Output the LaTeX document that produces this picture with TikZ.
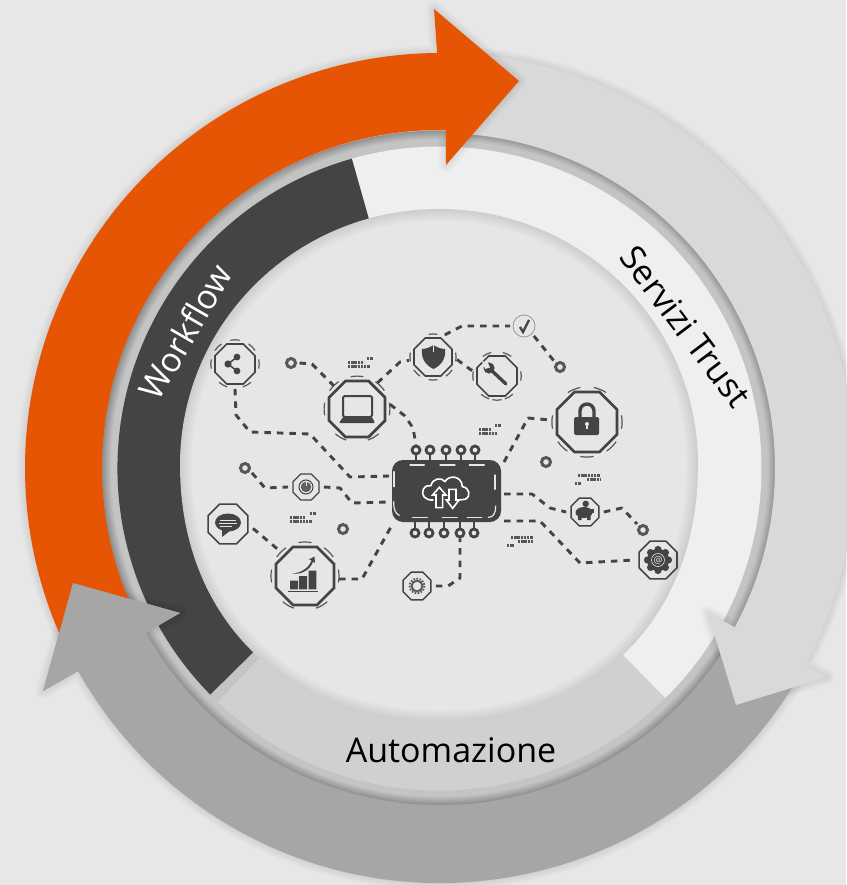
\documentclass[tikz,border=0pt]{standalone}
\usepackage{fontspec}
\setmainfont{Open Sans}
\usetikzlibrary{calc,shapes.geometric}
\definecolor{bgc}{HTML}{E7E7E7}
\definecolor{discc}{HTML}{E6E6E6}
\definecolor{groovec}{HTML}{C4C4C4}
\definecolor{whitering}{HTML}{EFEFEF}
\definecolor{darkring}{HTML}{444444}
\definecolor{autoc}{HTML}{D0D0D0}
\definecolor{lightarrow}{HTML}{D9D9D9}
\definecolor{greyarrow}{HTML}{A6A6A6}
\definecolor{orangearrow}{HTML}{E65504}
\definecolor{ink}{HTML}{444444}
\tikzset{
  hubnode/.style={draw=ink,regular polygon,regular polygon sides=8,inner sep=0pt,outer sep=5pt},
  hubtick/.style={draw=ink!90,line width=1.2pt},
  conn/.style={draw=ink,line width=2.9pt,dash pattern=on 6.5pt off 6pt,line join=round},
  dotnode/.style={circle,draw=ink!90,line width=3pt,minimum size=9pt,inner sep=0pt,outer sep=4pt},
  pinnode/.style={circle,draw=ink,line width=2.8pt,minimum size=8pt,inner sep=0pt,outer sep=1.4pt},
  pinstem/.style={draw=ink,line width=2.6pt},
  chipnode/.style={fill=ink,rounded corners=11pt,minimum width=109pt,minimum height=62pt,inner sep=0pt,outer sep=3pt},
  chipdash/.style={draw=discc,line width=1.2pt,line cap=round},
  bit/.style={draw=ink!90,line width=3pt,dash pattern=on 2.4pt off .8pt},
  bigtext/.style={font=\fontsize{34}{34}\selectfont,anchor=base,inner sep=0pt},
}
\newcommand\hubat[6]{% name x y R lw ticks
  \node[hubnode,minimum size=#4*2pt,line width=#5pt] (#1) at (#2,#3) {};
  \pgfmathsetmacro\tickR{#4+2.6}
  \foreach \a in {#6}{
    \pgfmathsetmacro\tA{-\a-11}
    \draw[hubtick] (#2,#3) ++(\tA:\tickR) arc[start angle=\tA,delta angle=22,radius=\tickR];
  }
}
\newcommand\softedge[1]{%
  \foreach \w in {3,6,9,12,15}{\draw[black,opacity=.014,line width=\w pt,line join=round] #1;}%
}
\begin{document}
\begin{tikzpicture}[x=1pt,y=-1pt]
\useasboundingbox (0,0) rectangle (846,885);
\fill[bgc] (0,0) rectangle (846,885);
\coordinate (cr) at (439.5,468.5);
\coordinate (ca) at (440,468);
% disc outline: a circle whose lower half bulges slightly
\def\discpath{(439,209) .. controls (582,209) and (698,323) .. (698,465) .. controls (698,619) and (594,722) .. (440,722) .. controls (286,722) and (180,619) .. (180,465) .. controls (180,323) and (296,209) .. (439,209) -- cycle}
% groove
\fill[groovec] (cr) circle[radius=338];
\begin{scope}
  \clip (cr) circle[radius=338];
  \foreach \w in {3,6,9,12,15,18}{\draw[black,opacity=.03,line width=\w pt] (ca) circle[radius=338];}
\end{scope}
% ring segments
\fill[whitering] (cr) -- ($(cr)+(45.5:322)$) arc[start angle=45.5,end angle=-105.8,radius=322] -- cycle;
\fill[darkring] (cr) -- ($(cr)+(-105.8:322)$) arc[start angle=-105.8,end angle=-224.6,radius=322] -- cycle;
\fill[autoc] (cr) -- ($(cr)+(-226.5:322)$) arc[start angle=-226.5,end angle=-314.5,radius=322] -- cycle;
% inner disc
\fill[discc] \discpath;
\begin{scope}
  \clip \discpath;
  \foreach \w in {3,6,9,12,15,18,21,24}{\draw[black,opacity=.011,line width=\w pt] \discpath;}
\end{scope}
% arrows
\def\lightpath{($(ca)+(-85:415)$) arc[start angle=-85,end angle=28.4,radius=415] -- (827,677) -- (736,705) -- (708,613) -- ($(ca)+(28.4:335)$) arc[start angle=28.4,end angle=-85,radius=335] -- cycle}
\def\greypath{($(ca)+(30:415)$) arc[start angle=30,end angle=150.7,radius=415] -- (43,691) -- (73,583) -- (180,613) -- ($(ca)+(150.7:337)$) arc[start angle=150.7,end angle=30,radius=337] -- cycle}
\def\orangepath{($(ca)+(-205:415)$) arc[start angle=-205,end angle=-90.4,radius=415] -- (434,9) -- (519,81) -- (446,165) -- ($(ca)+(-89:338)$) arc[start angle=-89,end angle=-205,radius=338] -- cycle}
\softedge{\lightpath}
\fill[lightarrow] \lightpath;
\softedge{\greypath}
\fill[greyarrow] \greypath;
\fill[lightarrow] (827,677) -- (736,705) -- (708,613) -- cycle;
\softedge{\orangepath}
\fill[orangearrow] \orangepath;
\fill[greyarrow] (43,691) -- (73,583) -- (180,613) -- cycle;
% labels
\node[bigtext,text=white,rotate=60] (tworkflow) at (196,338) {Workflow};
\node[bigtext,text=black,rotate=-53] (tservizi) at (676,334) {Servizi Trust};
\node[bigtext,text=black] (tauto) at (451,762) {Automazione};
% chip
\node[chipnode] (chip) at (446.5,491) {};
\foreach \n/\x in {1/416,2/430,3/446,4/461,5/475}{
  \node[pinnode] (pt\n) at (\x,450) {};
  \draw[pinstem] (pt\n.south) -- (\x,462);
}
\foreach \n/\x in {1/415,2/429,3/444,4/460,5/474}{
  \node[pinnode] (pb\n) at (\x,533) {};
  \draw[pinstem] (pb\n.north) -- (\x,520);
}
\begin{scope}[shift={(380,430)},x=.3333pt,y=-.3333pt]
  \draw[chipdash] (90,105) -- (133,105) (180,105) -- (225,105) (268,105) -- (313,105);
  \draw[chipdash] (345,135) -- (345,178);
  \draw[chipdash] (97,262) -- (142,262) (187,262) -- (232,262) (262,262) -- (305,262);
  \draw[chipdash] (325,262) .. controls (340,262) and (347,250) .. (347,228);
  \draw[chipdash] (42,125) -- (42,170);
  \draw[chipdash] (41,215) .. controls (41,240) and (46,250) .. (58,256);
  % cloud icon
  \draw[draw=white,line width=1.6pt,line join=round]
    (160,210) .. controls (135,212) and (122,195) .. (130,178)
    .. controls (135,168) and (145,165) .. (153,167)
    .. controls (157,145) and (185,140) .. (195,155)
    .. controls (205,135) and (245,135) .. (247,170)
    .. controls (268,172) and (275,200) .. (255,208) -- (235,210);
  \draw[draw=white,fill=ink,line width=1.6pt,line join=miter]
    (178,172) -- (198,195) -- (188,195) -- (188,233) -- (168,233) -- (168,195) -- (158,195) -- cycle;
  \draw[draw=white,fill=ink,line width=1.6pt,line join=miter]
    (207,178) -- (228,178) -- (228,210) -- (237,210) -- (218,235) -- (199,210) -- (207,210) -- cycle;
\end{scope}
% hubs
\hubat{share}{235}{364}{21.6}{1.6}{90,45,135,0,180,240,300}
\hubat{laptop}{357}{409}{30.3}{2.7}{90,45,135,0,180,240,300}
\hubat{shield}{433}{357}{20.5}{1.7}{90,0,180,225,315,270}
\hubat{wrench}{497}{376}{21.6}{1.7}{0,180,270,115,65,240,300}
\hubat{lock}{587}{422}{32.5}{2.7}{112,68,0,180,225,315,270}
\hubat{power}{306}{487}{14}{1.2}{}
\hubat{piggy}{585}{512}{15}{1.4}{}
\hubat{atsign}{658}{560}{20.5}{1.6}{}
\hubat{chat}{228}{524}{21.6}{1.5}{}
\hubat{chart}{305}{576}{31.4}{2.7}{90,45,135,0,180,240,300}
\hubat{gear}{417}{586}{15}{1.3}{}
\node[circle,draw=ink!55,line width=.8pt,minimum size=22pt,inner sep=0pt,outer sep=3pt] (check) at (524,326) {};
% share icon
\draw[draw=ink,line width=1.5pt] (237,357) -- (228,364) -- (237,371);
\fill[ink] (237,357) circle[radius=3.4] (228,364) circle[radius=3.6] (237,371) circle[radius=3.4];
% laptop icon
\draw[draw=ink,line width=2pt,rounded corners=1.5pt] (343,396) rectangle (372,417);
\fill[ink,rounded corners=1pt] (343,417) -- (372,417) -- (375,423) -- (339,423) -- cycle;
% shield icon
\fill[ink] (433.5,345) .. controls (429,348) and (425,349) .. (422,349) .. controls (421,358) and (425,365) .. (433.5,369) .. controls (442,365) and (446,358) .. (445,349) .. controls (442,349) and (438,348) .. (433.5,345) -- cycle;
\draw[draw=discc,line width=.5pt] (433.5,345) -- (433.5,352);
% check icon
\draw[draw=ink,line width=2.4pt] (520,327) -- (523,332) -- (529,320);
% wrench icon
\draw[draw=ink,line width=3.4pt,line cap=round] (490,369) -- (506,384);
\fill[ink] (489,368) circle[radius=5.6];
\fill[discc] (488,363) -- (490,367.5) -- (485,369) -- (482,361) -- cycle;
% lock icon
\draw[draw=ink,line width=3.4pt] (580,418) -- (580,411) arc[start angle=180,end angle=360,radius=7] -- (594,418);
\fill[ink,rounded corners=1.5pt] (574,417) rectangle (599,435);
\fill[discc] (587,424) circle[radius=2];
\draw[draw=discc,line width=1.4pt] (587,424) -- (587,429);
% power icon
\draw[draw=ink,line width=1pt] (306,487) circle[radius=7];
\fill[ink!85] (306,487) circle[radius=5.2];
\draw[draw=discc,line width=.9pt] (306,481) -- (306,486);
% piggy icon
\fill[ink] (584,512.5) ellipse[x radius=8.5,y radius=5.5];
\fill[ink] (590,509) rectangle (593.5,513);
\fill[ink] (578,516) rectangle (581.5,520) (587,516) rectangle (590.5,520);
\fill[ink] (585.7,503.8) circle[radius=3.2];
% at icon
\fill[ink] (658,560) circle[radius=11];
\foreach \a in {0,45,...,315}{\fill[ink] (658,560) ++(\a:10.5) circle[radius=3.6];}
\node[circle,draw=discc,line width=.6pt,minimum size=13pt,inner sep=0pt,text=discc,font=\fontsize{10}{10}\selectfont] (attext) at (658,560) {@};
% chat icon
\fill[ink] (228,522.5) ellipse[x radius=13,y radius=9];
\fill[ink] (222,529) -- (222,537) -- (231,530) -- cycle;
\draw[draw=discc,line width=.5pt] (220,520) -- (236,520) (219,522.8) -- (237,522.8) (220,526) -- (232,526);
% chart icon
\fill[ink] (290,580.7) rectangle (298,589.3) (299,576) rectangle (307,589.3) (308.7,570.7) rectangle (316.3,589.3);
\draw[draw=ink,line width=.9pt] (288,591.7) -- (318,591.7);
\fill[ink] (291.7,573.6) .. controls (303,573) and (310,566) .. (311.5,560) -- (309,559.5) -- (314.5,556.5) -- (315,563) -- (313,561.5) .. controls (311,568) and (304,575) .. (291.7,573.6) -- cycle;
% gear icon
\draw[draw=ink!90,line width=1.8pt,dash pattern=on 1.6pt off 1.5pt] (417,586) circle[radius=7.4];
\draw[draw=ink!90,line width=1.9pt] (417,586) circle[radius=5.4];
% dots
\node[dotnode] (d1) at (291,363) {};
\node[dotnode] (d2) at (245,468) {};
\node[dotnode] (d3) at (560,367) {};
\node[dotnode] (d4) at (546,462) {};
\node[dotnode] (d5) at (643,530) {};
\node[dotnode] (d6) at (343,529) {};
% connectors
\draw[conn] (share.south) -- (236,415) -- (250,432) -- (310,434) -- (350,477) -- ([yshift=15pt]chip.west);
\draw[conn] (d1.east) -- (312,364) -- (laptop.135);
\draw[conn] (laptop.52) -- (400,362) -- (shield.188);
\draw[conn] (laptop.8) -- (405,416) -- (413,428) -- (pt1.north);
\draw[conn] (d2.-35) -- (265,488) -- (power.west);
\draw[conn] (power.east) -- (340,488) -- (352,503) -- ([yshift=-11pt]chip.west);
\draw[conn] (chat.-10) -- (chart.135);
\draw[conn] (chart.-5) -- (362,579) -- ([xshift=3pt]chip.south west);
\draw[conn] (gear.east) -- (448,586) -- (460,578) -- (pb4.south);
\draw[conn] ([yshift=-5pt]chip.north east) -- (528,418) -- (lock.177);
\draw[conn] (shield.62) -- (462,326) -- (check.west);
\draw[conn] (shield.-6) -- (wrench.168);
\draw[conn] (check.-45) -- (d3.135);
\draw[conn] ([yshift=-3pt]chip.east) -- (532,494) -- (550,508) -- (piggy.west);
\draw[conn] (piggy.east) -- (622,508) -- (d5.135);
\draw[conn] ([yshift=-30pt]chip.east) -- (540,521) -- (580,563) -- (atsign.west);
% binary marks
\draw[bit] (348,362) -- (364,362) (348,366) -- (370,366) (367,358.5) -- (373,358.5);
\draw[bit] (479,429.5) -- (491,429.5) (479,433.5) -- (497,433.5) (495,425) -- (501,425);
\draw[bit] (578,475) -- (600,475) (587,479.5) -- (600,479.5) (575,483.5) -- (581,483.5);
\draw[bit] (290,517.5) -- (305,517.5) (290,521.5) -- (312,521.5) (310,513.5) -- (316,513.5);
\draw[bit] (511,537.5) -- (533,537.5) (518,541.5) -- (533,541.5) (507,545.5) -- (514,545.5);
\end{tikzpicture}
\end{document}
